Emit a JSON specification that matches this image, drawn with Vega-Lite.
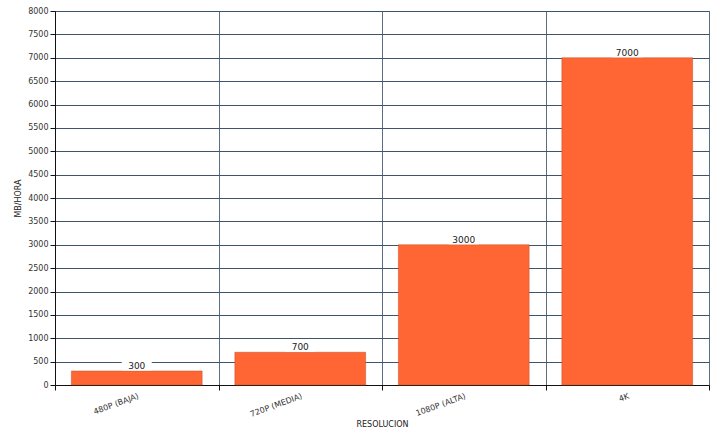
{
  "$schema": "https://vega.github.io/schema/vega-lite/v6.json",
  "description": "MB por hora segun resolucion.",
  "width": 654,
  "height": 374,
  "padding": {"left": 14, "top": 7, "right": 0, "bottom": 0},
  "autosize": {"type": "pad"},
  "background": "white",
  "data": {
    "values": [
      {"Resolucion": "480P (BAJA)", "MB": 300},
      {"Resolucion": "720P (MEDIA)", "MB": 700},
      {"Resolucion": "1080P (ALTA)", "MB": 3000},
      {"Resolucion": "4K", "MB": 7000}
    ]
  },
  "encoding": {
    "x": {
      "field": "Resolucion",
      "type": "nominal",
      "sort": null,
      "title": "RESOLUCION",
      "scale": {"paddingInner": 0, "paddingOuter": 0},
      "axis": {
        "labelAngle": -20,
        "tickBand": "extent",
        "grid": true,
        "gridColor": "#5a6e84",
        "titlePadding": 2
      }
    },
    "y": {
      "field": "MB",
      "type": "quantitative",
      "title": "MB/HORA",
      "scale": {"domain": [0, 8000]},
      "axis": {"values": [0, 500, 1000, 1500, 2000, 2500, 3000, 3500, 4000, 4500, 5000, 5500, 6000, 6500, 7000, 7500, 8000], "format": "d", "gridColor": "#3f546a", "titlePadding": 5}
    }
  },
  "layer": [
    {
      "mark": {"type": "bar", "color": "#ff6633", "stroke": "#c0502a", "strokeWidth": 0.5, "width": {"band": 0.8}}
    },
    {
      "mark": {"type": "rect", "color": "white", "width": 30, "height": 9, "yOffset": -5},
      "encoding": {"y": {"field": "MB", "type": "quantitative"}}
    },
    {
      "mark": {"type": "text", "fontSize": 9, "font": "DejaVu Sans", "color": "#222222", "dy": -5},
      "encoding": {"text": {"field": "MB", "type": "quantitative"}}
    }
  ],
  "config": {
    "view": {"stroke": "#888888", "strokeWidth": 1},
    "axis": {
      "labelFont": "DejaVu Sans",
      "labelFontSize": 8,
      "labelColor": "#333333",
      "titleFont": "DejaVu Sans",
      "titleFontSize": 8,
      "titleFontWeight": "normal",
      "titleColor": "#222222",
      "domainColor": "#111111",
      "tickColor": "#111111",
      "gridOpacity": 1
    }
  }
}
